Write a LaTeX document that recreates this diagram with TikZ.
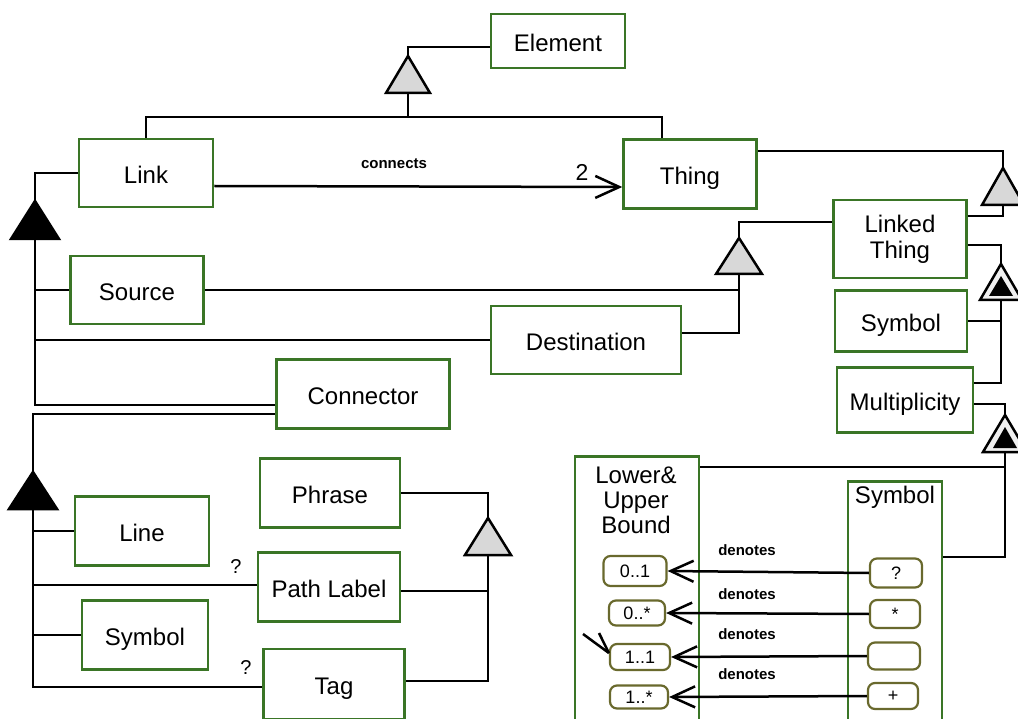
\documentclass[tikz,border=0pt]{standalone}
\usepackage{fontspec}
\setmainfont{Liberation Sans}
\usetikzlibrary{arrows.meta,calc}
\definecolor{boxgreen}{RGB}{58,117,38}
\definecolor{olivebox}{RGB}{105,105,45}
\definecolor{trigray}{RGB}{216,216,216}
\begin{document}
\begin{tikzpicture}[x=1pt,y=-1pt,
  mbox/.style={draw=boxgreen, line width=2.5pt, fill=white, inner sep=0pt, font=\fontsize{24}{26}\selectfont, align=center},
  box/.style={mbox, text height=21pt, text depth=0pt},
  sbox/.style={draw=olivebox, line width=2.2pt, rounded corners=7pt, fill=white, inner sep=0pt, font=\fontsize{18}{20}\selectfont},
  conn/.style={line width=2.5pt, draw=black},
  tri/.style={draw=black, line width=2.5pt, fill=trigray, line join=miter},
  ntri/.style={draw=black, line width=2.5pt, fill=gray!12, line join=miter},
  lbl/.style={font=\bfseries\fontsize{15}{17}\selectfont, inner sep=0pt},
  qlbl/.style={font=\fontsize{20}{22}\selectfont, inner sep=0pt},
  openarr/.style={-{Straight Barb[length=23pt,width=21pt]}},
]
\clip (0,0) rectangle (1018,719);
\fill[white] (0,0) rectangle (1018,719);

% ---------- boxes ----------
\node[box, minimum width=134, minimum height=54] (elem) at (558,41) {Element};
\node[box, minimum width=134, minimum height=68] (link) at (146,173) {Link};
\node[box, minimum width=133, minimum height=69] (thing) at (690,174) {Thing};
\node[mbox, minimum width=133, minimum height=78] (linked) at (900,239) {Linked\\Thing};
\node[box, minimum width=133, minimum height=68] (source) at (137,290) {Source};
\node[box, minimum width=190, minimum height=68] (dest) at (586,340) {Destination};
\node[box, minimum width=132, minimum height=61] (symr) at (901,321) {Symbol};
\node[box, minimum width=173, minimum height=69] (connector) at (363,394) {Connector};
\node[box, minimum width=136, minimum height=65] (mult) at (905,400) {Multiplicity};
\node[box, minimum width=140, minimum height=69] (phrase) at (330,493) {Phrase};
\node[box, minimum width=134, minimum height=69] (line) at (142,531) {Line};
\node[box, minimum width=142, minimum height=69] (path) at (329,587) {Path Label};
\node[box, minimum width=126, minimum height=69] (syml) at (145,635) {Symbol};
\node[box, minimum width=141, minimum height=70] (tag) at (334,684) {Tag};
\node[mbox, minimum width=124, minimum height=320, anchor=north] (lub) at (637,455) {};
\node[mbox, minimum width=94, minimum height=300, anchor=north] (symt) at (895,480) {};
\node[font=\fontsize{24}{25}\selectfont, align=center, inner sep=0pt] (lubt) at (636,500) {Lower\&\\Upper\\Bound};
\node[font=\fontsize{24}{26}\selectfont, inner sep=0pt] (symtt) at (895,497) {Symbol};

% small rounded boxes
\node[sbox, minimum width=63, minimum height=30] (s01) at (635,571) {0..1};
\node[sbox, minimum width=56, minimum height=25] (s0s) at (637,613) {0..*};
\node[sbox, minimum width=60, minimum height=26] (s11) at (640,657) {1..1};
\node[sbox, minimum width=58, minimum height=23] (s1s) at (639,697) {1..*};
\node[sbox, minimum width=52, minimum height=29] (sq) at (896,573) {?};
\node[sbox, minimum width=50, minimum height=28] (sst) at (895,614) {*};
\node[sbox, minimum width=52, minimum height=27] (sbl) at (894,656) {};
\node[sbox, minimum width=50, minimum height=26] (spl) at (893,696) {+};

% ---------- junction coordinates ----------
\coordinate (g1) at (408,56);   \coordinate (g1b) at (408,93);  \coordinate (bar1) at (408,117);
\coordinate (t2) at (35,201);   \coordinate (t2b) at (35,239);
\coordinate (t3) at (739,238);  \coordinate (t3b) at (739,274);
\coordinate (t4) at (1003,168); \coordinate (t4b) at (1003,205);
\coordinate (t5) at (1001,264); \coordinate (t5b) at (1001,300);
\coordinate (t6) at (1005,415); \coordinate (t6b) at (1005,452);
\coordinate (t7) at (33,472);   \coordinate (t7b) at (33,509);
\coordinate (t8) at (488,518);  \coordinate (t8b) at (488,555);
\coordinate (thingtop) at ([xshift=-28pt]thing.north);
\coordinate (destr) at ([yshift=7pt]dest.east);
\coordinate (lubr) at ([yshift=-12pt]lub.north east);
\coordinate (symtr) at ([yshift=-77pt]symt.north east);
\coordinate (pathl) at ([yshift=2pt]path.west);
\coordinate (pathr) at ([yshift=-4pt]path.east);

% ---------- connectors ----------
% Element generalisation
\draw[conn] (g1) |- ([yshift=-6pt]elem.west);
\draw[conn] (g1b) -- (bar1);
\draw[conn] (link.north) |- (bar1);
\draw[conn] (thingtop) |- (bar1);
% Link composition
\draw[conn] (t2) |- (link.west);
\draw[conn] (t2b) |- ([yshift=-11pt]connector.west);
\draw[conn] (source.west) -- (source.west -| t2b);
\draw[conn] (dest.west) -- (dest.west -| t2b);
% Source / Destination generalisation
\draw[conn] (t3) |- ([yshift=17pt]linked.west);
\draw[conn] (destr) -| (t3b);
\draw[conn] (source.east) -- (source.east -| t3b);
% Thing generalisation
\draw[conn] ([yshift=23pt]thing.east) -| (t4);
\draw[conn] (t4b) |- ([yshift=23pt]linked.east);
% Linked Thing composition
\draw[conn] ([yshift=-6pt]linked.east) -| (t5);
\draw[conn] (t5b) |- ([yshift=17pt]mult.east);
\draw[conn] (symr.east) -- (symr.east -| t5b);
% Multiplicity composition
\draw[conn] ([yshift=-4pt]mult.east) -| (t6);
\draw[conn] (t6b) |- (symtr);
\draw[conn] (lubr) -- (lubr -| t6b);
% Connector composition
\draw[conn] (t7) |- ([yshift=-20pt]connector.west);
\draw[conn] (t7b) |- ([yshift=-3pt]tag.west);
\draw[conn] (line.west) -- (line.west -| t7b);
\draw[conn] (pathl) -- (pathl -| t7b);
\draw[conn] (syml.west) -- (syml.west -| t7b);
% Phrase generalisation
\draw[conn] (phrase.east) -| (t8);
\draw[conn] (t8b) |- ([yshift=3pt]tag.east);
\draw[conn] (pathr) -- (pathr -| t8b);

% connects
\draw[conn, -{Straight Barb[length=24pt,width=22pt]}] ([yshift=-13pt]link.east) -- ([yshift=-13pt]thing.west);
\node[lbl] (lconn) at (394,164) {connects};
\node[font=\fontsize{23}{25}\selectfont, inner sep=0pt] (ltwo) at (582,172) {2};
\node[qlbl] (q1) at (236,567) {?};
\node[qlbl] (q2) at (246,668) {?};

% denotes
\draw[conn, openarr] (sq.west) -- (s01.east);
\draw[conn, openarr] (sst.west) -- (s0s.east);
\draw[conn, openarr] (sbl.west) -- (s11.east);
\draw[conn, openarr] (spl.west) -- (s1s.east);
\node[lbl] (d1) at (747,550) {denotes};
\node[lbl] (d2) at (747,594) {denotes};
\node[lbl] (d3) at (747,634) {denotes};
\node[lbl] (d4) at (747,674) {denotes};
\coordinate (xa) at (583,634);
\coordinate (xb) at (599,633);
\draw[conn] (xa) -- ([yshift=4pt]s11.west);
\draw[conn] (xb) -- ([yshift=4pt]s11.west);

% ---------- triangles ----------
\draw[tri] (g1) -- ++(22,37) -- ++(-44,0) -- cycle;
\draw[tri, fill=black] (t2) -- ++(24,38) -- ++(-48,0) -- cycle;
\draw[tri] (t3) -- ++(23,36) -- ++(-46,0) -- cycle;
\draw[tri] (t4) -- ++(21,37) -- ++(-42,0) -- cycle;
\draw[ntri] (t5) -- ++(21,36) -- ++(-42,0) -- cycle;
\fill[black] (1001,276) -- (1013,296) -- (989,296) -- cycle;
\draw[ntri] (t6) -- ++(22,37) -- ++(-44,0) -- cycle;
\fill[black] (1005,427) -- (1017,448) -- (993,448) -- cycle;
\draw[tri, fill=black] (t7) -- ++(24,37) -- ++(-48,0) -- cycle;
\draw[tri] (t8) -- ++(23,37) -- ++(-46,0) -- cycle;
\end{tikzpicture}
\end{document}
